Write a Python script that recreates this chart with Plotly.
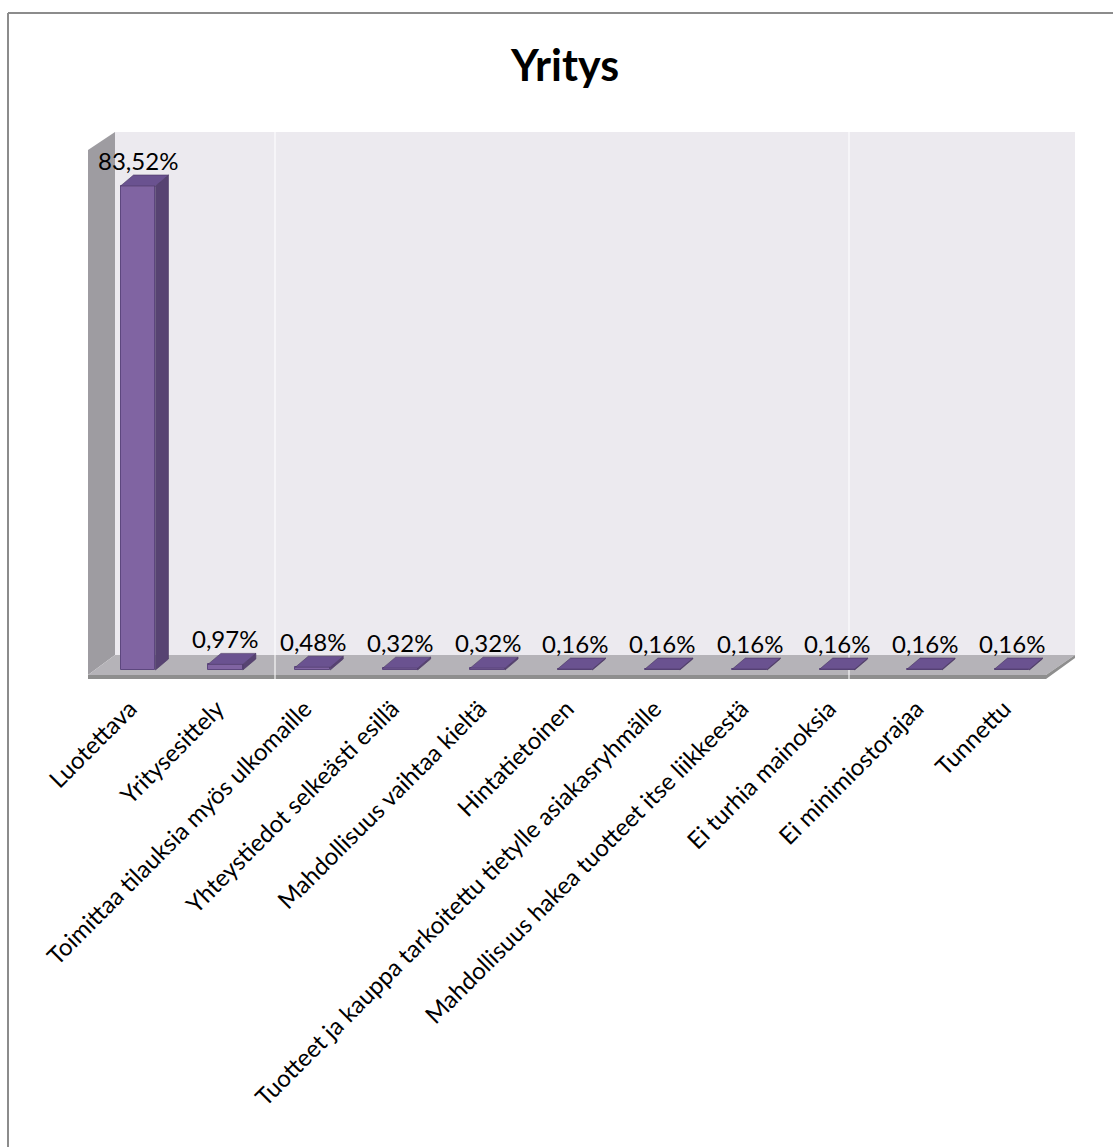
import plotly.graph_objects as go

# Survey shares (%) for the "Yritys" question
categories = [
    "Luotettava",
    "Yritysesittely",
    "Toimittaa tilauksia myös ulkomaille",
    "Yhteystiedot selkeästi esillä",
    "Mahdollisuus vaihtaa kieltä",
    "Hintatietoinen",
    "Tuotteet ja kauppa tarkoitettu tietylle asiakasryhmälle",
    "Mahdollisuus hakea tuotteet itse liikkeestä",
    "Ei turhia mainoksia",
    "Ei minimiostorajaa",
    "Tunnettu",
]
values = [83.52, 0.97, 0.48, 0.32, 0.32, 0.16, 0.16, 0.16, 0.16, 0.16, 0.16]
value_labels = ["83,52%", "0,97%", "0,48%", "0,32%", "0,32%", "0,16%",
                "0,16%", "0,16%", "0,16%", "0,16%", "0,16%"]

W, H = 1113, 1147
M_L, M_R, M_T, M_B = 88, 38, 132, 468
PW, PH = W - M_L - M_R, H - M_T - M_B

X_RANGE = [-0.572, 10.721]
Y_RANGE = [-1.553, 92.84]
px_per_x = PW / (X_RANGE[1] - X_RANGE[0])
px_per_y = PH / (Y_RANGE[1] - Y_RANGE[0])

FONT = "Lato, 'Open Sans', sans-serif"
FRONT = "#8064A2"
SIDE = "#574372"
TOP = "#6A5290"

xs = list(range(len(categories)))
hw = 0.2                      # half bar width (x units)
ddx = 13 / px_per_x           # bar depth offset
ddy = 11 / px_per_y


def px_x(p):
    return X_RANGE[0] + (p - M_L) / px_per_x


def px_y(p):
    return Y_RANGE[0] + (M_T + PH - p) / px_per_y


fig = go.Figure()

# side and top faces of the columns
side_x, side_y, top_x, top_y = [], [], [], []
for c, v in zip(xs, values):
    side_x += [c + hw, c + hw, c + hw + ddx, c + hw + ddx, c + hw, None]
    side_y += [0, v, v + ddy, ddy, 0, None]
    top_x += [c - hw, c + hw, c + hw + ddx, c - hw + ddx, c - hw, None]
    top_y += [v, v, v + ddy, v + ddy, v, None]

fig.add_trace(go.Scatter(x=side_x, y=side_y, mode="lines", fill="toself",
                         fillcolor=SIDE, line=dict(width=0.6, color="#4a3863"),
                         hoverinfo="skip", showlegend=False))
fig.add_trace(go.Scatter(x=top_x, y=top_y, mode="lines", fill="toself",
                         fillcolor=TOP, line=dict(width=0.6, color="#4a3863"),
                         hoverinfo="skip", showlegend=False))

# front faces
fig.add_trace(go.Bar(x=xs, y=values, width=2 * hw, marker=dict(color=FRONT,
                     line=dict(color="#5d477e", width=1)),
                     showlegend=False, hoverinfo="skip"))

# value labels
annotations = []
for c, v, t in zip(xs, values, value_labels):
    annotations.append(dict(x=c, y=v, xref="x", yref="y", text=t, showarrow=False,
                            yanchor="middle", yshift=26,
                            font=dict(family=FONT, size=24, color="#000000")))

# walls and floor
wall_x0, wall_x1 = px_x(115), px_x(1075)
wall_top, wall_base = px_y(132), px_y(655)
front_l, front_r = px_x(88), px_x(1046)
floor_front, floor_bottom = px_y(675), px_y(679)
left_top_front = px_y(150)

shapes = [
    # back wall
    dict(type="rect", xref="x", yref="y", x0=wall_x0, x1=wall_x1, y0=wall_base,
         y1=wall_top, fillcolor="#ECEAEF", line=dict(width=0), layer="below"),
    # left wall
    dict(type="path", xref="x", yref="y", layer="below",
         path=f"M{front_l},{left_top_front} L{wall_x0},{wall_top} L{wall_x0},{wall_base} "
              f"L{front_l},{floor_front} Z",
         fillcolor="#9E9CA1", line=dict(width=0)),
    # floor top
    dict(type="path", xref="x", yref="y", layer="below",
         path=f"M{front_l},{floor_front} L{wall_x0},{wall_base} L{wall_x1},{wall_base} "
              f"L{front_r},{floor_front} Z",
         fillcolor="#B5B3B8", line=dict(width=0)),
    # floor front edge
    dict(type="path", xref="x", yref="y", layer="below",
         path=f"M{front_l},{floor_front} L{front_r},{floor_front} L{wall_x1},{wall_base} "
              f"L{wall_x1},{px_y(658)} L{front_r},{floor_bottom} L{front_l},{floor_bottom} Z",
         fillcolor="#8E8E8E", line=dict(width=0)),
]

# faint vertical divider lines
for p in (275, 849):
    shapes.append(dict(type="line", xref="x", yref="y", x0=px_x(p), x1=px_x(p),
                       y0=floor_bottom, y1=wall_top,
                       line=dict(color="rgba(255,255,255,0.9)", width=1.2), layer="below"))

# outer frame (top and left edges)
def pap_x(p):
    return (p - M_L) / PW


def pap_y(p):
    return (M_T + PH - p) / PH


shapes.append(dict(type="line", xref="paper", yref="paper", x0=pap_x(8), x1=pap_x(W + 5),
                   y0=pap_y(13), y1=pap_y(13), line=dict(color="#8C8C8C", width=2)))
shapes.append(dict(type="line", xref="paper", yref="paper", x0=pap_x(8), x1=pap_x(8),
                   y0=pap_y(13), y1=pap_y(H + 5), line=dict(color="#8C8C8C", width=2)))

fig.update_layout(
    width=W, height=H,
    margin=dict(l=M_L, r=M_R, t=M_T, b=M_B),
    paper_bgcolor="#FFFFFF", plot_bgcolor="rgba(0,0,0,0)",
    title=dict(text="<b>Yritys</b>", x=565 / W, xref="container", xanchor="center",
               y=1 - 66 / H, yref="container", yanchor="middle",
               font=dict(family=FONT, size=43, color="#000000")),
    xaxis=dict(range=X_RANGE, tickvals=xs, ticktext=categories, tickangle=-45,
               showgrid=False, zeroline=False, showline=False, ticks="",
               ticklabelstandoff=10, ticklabelshift=-8,
               tickfont=dict(family=FONT, size=24, color="#000000")),
    yaxis=dict(range=Y_RANGE, showgrid=False, zeroline=False, showline=False,
               showticklabels=False, ticks=""),
    shapes=shapes,
    annotations=annotations,
    bargap=0,
)

fig.write_html("out.html")
